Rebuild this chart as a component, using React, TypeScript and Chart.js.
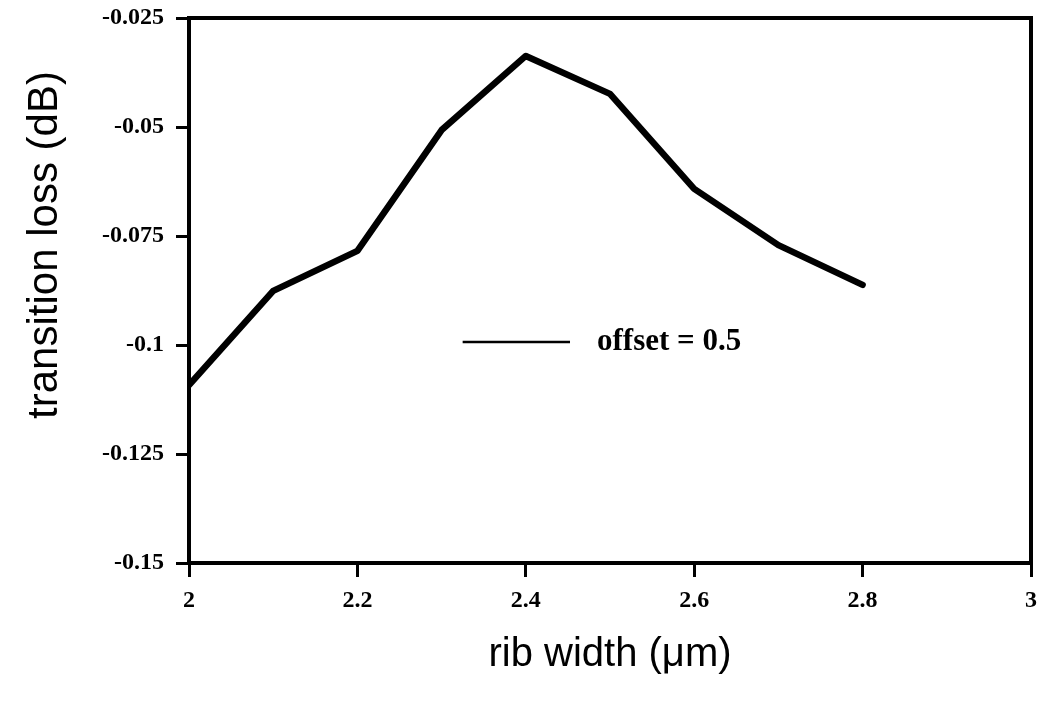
import React, { useEffect, useRef } from "react";
import { Chart, registerables } from "chart.js";

Chart.register(...registerables);

const ribWidths = [2, 2.1, 2.2, 2.3, 2.4, 2.5, 2.6, 2.7, 2.8];
const transitionLoss = [-0.1092, -0.0876, -0.0784, -0.0507, -0.0337, -0.0424, -0.0642, -0.0771, -0.0862];
const xTickValues = [2, 2.2, 2.4, 2.6, 2.8, 3];
const xTickLabels = ["2", "2.2", "2.4", "2.6", "2.8", "3"];
const yTickValues = [-0.15, -0.125, -0.1, -0.075, -0.05, -0.025];
const yTickLabels = ["-0.15", "-0.125", "-0.1", "-0.075", "-0.05", "-0.025"];
const seriesLabel = "offset = 0.5";
const xTitle = "rib width (\u03bcm)";
const yTitle = "transition loss (dB)";

const W = 1037;
const H = 704;

const framePlugin = {
  id: "frameAndText",
  afterDraw(chart: any) {
    const { ctx, chartArea } = chart;
    const xs = chart.scales.x;
    const ys = chart.scales.y;
    ctx.save();
    // frame
    ctx.strokeStyle = "#000";
    ctx.lineWidth = 4;
    ctx.strokeRect(chartArea.left, chartArea.top, chartArea.right - chartArea.left, chartArea.bottom - chartArea.top);
    // legend inside plot
    const lx1 = xs.getPixelForValue(2.325);
    const lx2 = xs.getPixelForValue(2.4525);
    const ly = ys.getPixelForValue(-0.0993);
    ctx.lineWidth = 2.5;
    ctx.beginPath();
    ctx.moveTo(lx1, ly);
    ctx.lineTo(lx2, ly);
    ctx.stroke();
    ctx.fillStyle = "#000";
    ctx.font = "bold 31px 'Liberation Serif'";
    ctx.textAlign = "left";
    ctx.textBaseline = "middle";
    ctx.fillText(seriesLabel, xs.getPixelForValue(2.4846), ly);
    // axis titles
    ctx.font = "40px 'Liberation Sans'";
    ctx.textAlign = "center";
    ctx.textBaseline = "middle";
    ctx.fillText(xTitle, (chartArea.left + chartArea.right) / 2, 655);
    ctx.font = "42px 'Liberation Sans'";
    ctx.translate(45, 245);
    ctx.rotate(-Math.PI / 2);
    ctx.fillText(yTitle, 0, 0);
    ctx.restore();
  },
};

export default function App() {
  const ref = useRef<HTMLCanvasElement | null>(null);
  useEffect(() => {
    document.body.style.margin = "0";
    const canvas = ref.current!;
    const tickFont = { family: "'Liberation Serif'", size: 24, weight: "bold" as const };
    const chart = new Chart(canvas, {
      type: "line",
      data: {
        labels: ribWidths,
        datasets: [
          {
            label: seriesLabel,
            data: ribWidths.map((x, i) => ({ x, y: transitionLoss[i] })),
            borderColor: "#000",
            backgroundColor: "#000",
            borderWidth: 6.5,
            pointRadius: 0,
            tension: 0,
            borderCapStyle: "round",
            borderJoinStyle: "round",
            fill: false,
          },
        ],
      },
      options: {
        animation: false,
        responsive: false,
        devicePixelRatio: 1,
        layout: { padding: { top: 18, right: 6, left: 0, bottom: 0 } },
        plugins: { legend: { display: false }, tooltip: { enabled: false }, title: { display: false } },
        scales: {
          x: {
            type: "linear",
            min: 2,
            max: 3,
            afterBuildTicks: (s: any) => {
              s.ticks = xTickValues.map((v) => ({ value: v }));
            },
            afterFit: (s: any) => {
              s.height = 141;
              s.paddingLeft = 0;
              s.paddingRight = 0;
            },
            ticks: {
              color: "#000",
              font: tickFont,
              padding: 9,
              maxRotation: 0,
              autoSkip: false,
              callback: (_v: any, i: number) => xTickLabels[i],
            },
            grid: { display: true, drawOnChartArea: false, drawTicks: true, tickLength: 14, lineWidth: 3, color: "#000" },
            border: { display: false },
          },
          y: {
            type: "linear",
            min: -0.15,
            max: -0.025,
            afterBuildTicks: (s: any) => {
              s.ticks = yTickValues.map((v) => ({ value: v }));
            },
            afterFit: (s: any) => {
              s.width = 189;
              s.paddingTop = 0;
              s.paddingBottom = 0;
            },
            ticks: {
              color: "#000",
              font: tickFont,
              padding: 12,
              autoSkip: false,
              callback: (_v: any, i: number) => yTickLabels[i],
            },
            grid: { display: true, drawOnChartArea: false, drawTicks: true, tickLength: 13, lineWidth: 3, color: "#000" },
            border: { display: false },
          },
        },
      } as any,
      plugins: [framePlugin],
    });
    return () => chart.destroy();
  }, []);
  return (
    <div style={{ position: "fixed", left: 0, top: 0, width: W, height: H, background: "#fff" }}>
      <canvas ref={ref} width={W} height={H} style={{ width: W, height: H, display: "block" }} />
    </div>
  );
}
